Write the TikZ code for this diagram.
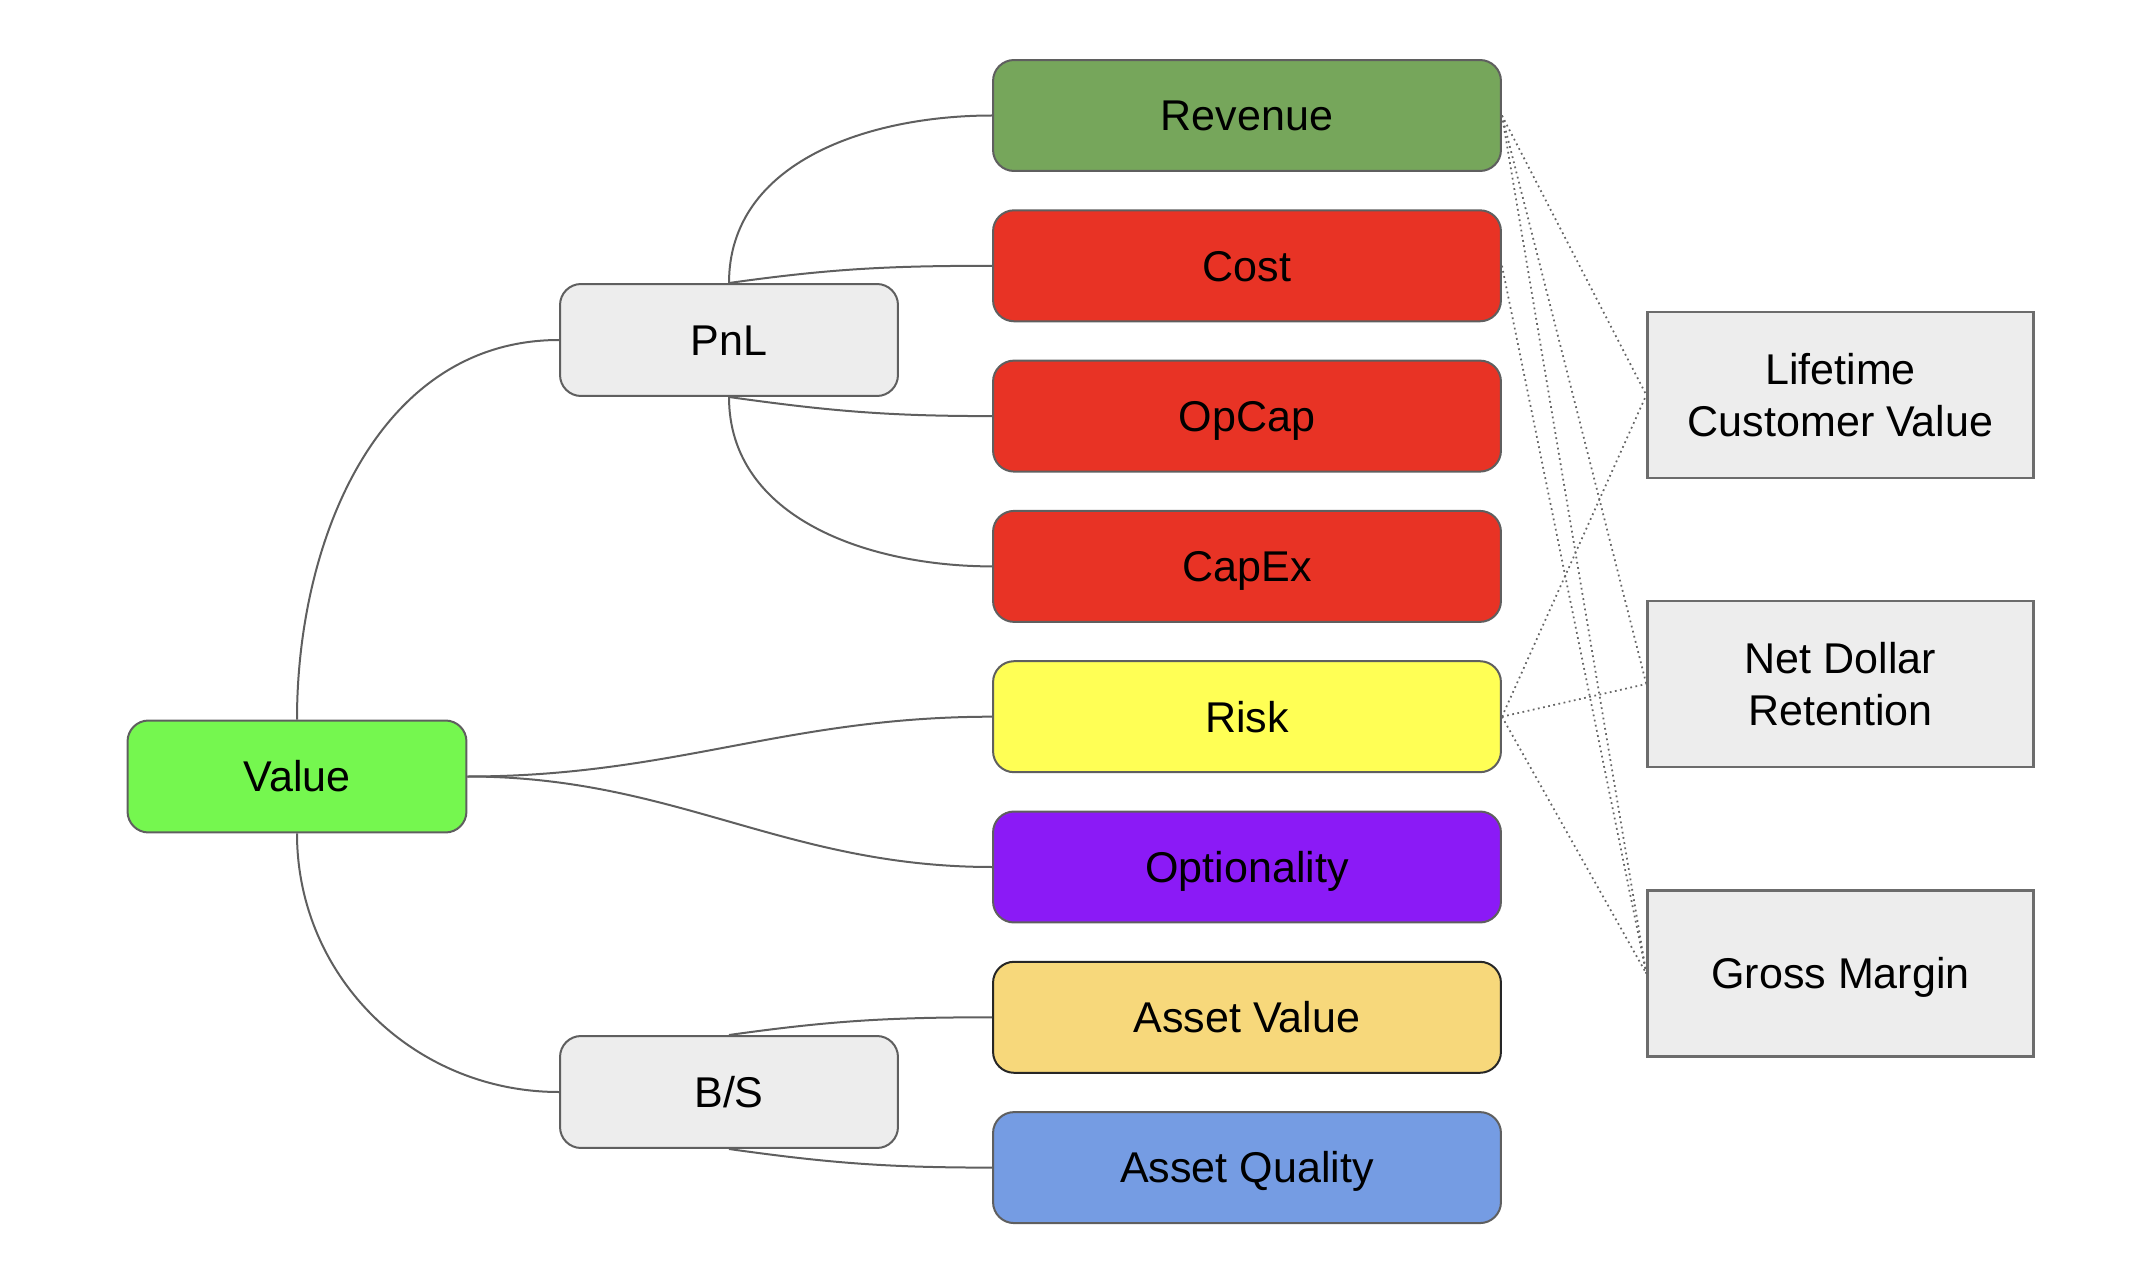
\documentclass[tikz,border=0pt]{standalone}
\usepackage{fontspec}
\setmainfont{Liberation Sans}
\usepackage{tikz}

\definecolor{revgreen}{HTML}{76A65B}
\definecolor{costred}{HTML}{E83325}
\definecolor{riskyellow}{HTML}{FFFF55}
\definecolor{optpurple}{HTML}{8B1AF6}
\definecolor{valgreen}{HTML}{75F74F}
\definecolor{assetgold}{HTML}{F7D87B}
\definecolor{assetblue}{HTML}{759CE3}
\definecolor{boxgray}{HTML}{EDEDED}
\definecolor{linegray}{HTML}{5F5F5F}

\tikzset{
	shape base/.style={draw=linegray, line width=0.04cm, inner sep=0pt,
		font=\fontsize{24.5}{29.5}\selectfont},
	oneline/.style={text height=17.5pt, text depth=0pt},
	box/.style={shape base, oneline, rounded corners=0.42cm,
		minimum width=10.16cm, minimum height=2.22cm},
	midbox/.style={box, fill=boxgray, minimum width=6.76cm, minimum height=2.24cm},
	kpi/.style={shape base, fill=boxgray, minimum width=7.72cm,
		minimum height=3.32cm, align=center, line width=0.05cm, draw=gray!85!black},
	link/.style={draw=linegray, line width=0.04cm},
	feeds/.style={draw=gray!80!black, line width=0.035cm, dotted}
}

\begin{document}
\begin{tikzpicture}[x=0.02cm, y=-0.02cm]
	\useasboundingbox (0,0) rectangle (2144,1270);
	\node[box, fill=revgreen] (revenue) at (1247,115.5) {Revenue};
	\node[box, fill=costred] (cost) at (1247,265.8) {Cost};
	\node[box, fill=costred] (opcap) at (1247,416.1) {OpCap};
	\node[box, fill=costred] (capex) at (1247,566.4) {CapEx};
	\node[box, fill=riskyellow] (risk) at (1247,716.7) {Risk};
	\node[box, fill=optpurple] (option) at (1247,867) {Optionality};
	\node[box, fill=assetgold, draw=black!85] (assetval) at (1247,1017.3) {Asset Value};
	\node[box, fill=assetblue] (assetq) at (1247,1167.6) {Asset Quality};
	\node[midbox] (pnl) at (729,340) {PnL};
	\node[midbox] (bs) at (729,1092) {B/S};
	\node[box, fill=valgreen, minimum width=6.78cm, minimum height=2.24cm] (value) at (297,776.5) {Value};
	\node[kpi] (ltv) at (1840.5,395) {Lifetime\\Customer Value};
	\node[kpi] (ndr) at (1840.5,684) {Net Dollar\\Retention};
	\node[kpi, oneline] (gm) at (1840.5,973.5) {Gross Margin};
	% tree
	\draw[link] (value.north) to[out=90, in=180] (pnl.west);
	\draw[link] (value.south) to[out=-90, in=180] (bs.west);
	\draw[link] (value.east) to[out=0, in=180] (risk.west);
	\draw[link] (value.east) to[out=0, in=180] (option.west);
	\draw[link] (pnl.north) to[out=90, in=180] (revenue.west);
	\draw[link] (pnl.north) to[out=8, in=180] (cost.west);
	\draw[link] (pnl.south) to[out=-8, in=180] (opcap.west);
	\draw[link] (pnl.south) to[out=-90, in=180] (capex.west);
	\draw[link] (bs.north) to[out=8, in=180] (assetval.west);
	\draw[link] (bs.south) to[out=-8, in=180] (assetq.west);
	% metrics
	\foreach \m in {ltv,ndr,gm} \draw[feeds] (revenue.east) -- (\m.west);
	\foreach \m in {ltv,ndr,gm} \draw[feeds] (risk.east) -- (\m.west);
	\draw[feeds] (cost.east) -- (gm.west);
\end{tikzpicture}
\end{document}
